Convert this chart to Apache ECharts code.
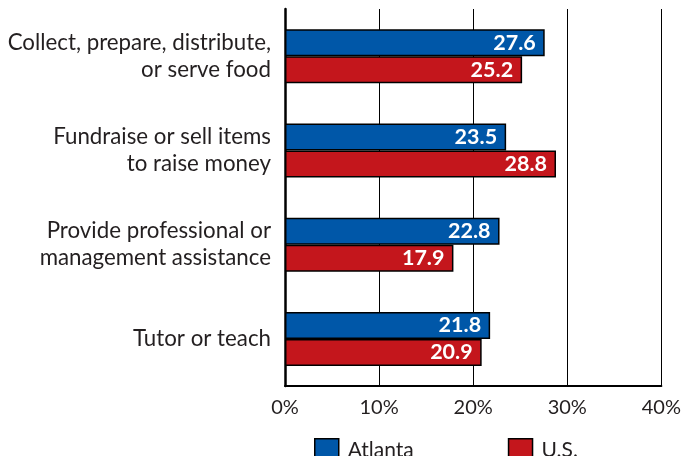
<!DOCTYPE html>
<html>
<head>
<meta charset="utf-8">
<script src="https://cdn.jsdelivr.net/npm/echarts@6/dist/echarts.min.js"></script>
<style>
  html, body { margin: 0; padding: 0; background: #fff; }
  #chart { width: 684px; height: 456px; }
</style>
</head>
<body>
<div id="chart"></div>
<script>
// Volunteer activity shares, Atlanta vs. U.S.
const categories = [
  'Collect, prepare, distribute,\nor serve food',
  'Fundraise or sell items\nto raise money',
  'Provide professional or\nmanagement assistance',
  'Tutor or teach'
];
const atlanta = [27.6, 23.5, 22.8, 21.8];
const us = [25.2, 28.8, 17.9, 20.9];
const xTicks = [0, 10, 20, 30, 40];

const FONT = 'Lato, "Noto Sans", sans-serif';
const chart = echarts.init(document.getElementById('chart'));

const valueLabel = {
  show: true,
  position: 'insideRight',
  distance: 9,
  color: '#fff',
  fontFamily: FONT,
  fontWeight: 'bold',
  fontSize: 21.5,
  formatter: p => p.value.toFixed(1)
};

chart.setOption({
  animation: false,
  grid: { left: 285, right: 20, top: 9, bottom: 70, containLabel: false },
  legend: {
    top: 433,
    left: 309,
    itemWidth: 24,
    itemHeight: 23,
    itemGap: 94,
    icon: 'rect',
    textStyle: { fontFamily: FONT, fontSize: 21, color: '#231f20', padding: [4, 0, 0, 4] },
    data: [
      { name: 'Atlanta', itemStyle: { borderColor: '#000', borderWidth: 1.5 } },
      { name: 'U.S.', itemStyle: { borderColor: '#000', borderWidth: 1.5 } }
    ]
  },
  xAxis: {
    type: 'value',
    min: xTicks[0],
    max: xTicks[xTicks.length - 1],
    interval: 10,
    axisLine: { show: true, lineStyle: { color: '#000', width: 2 } },
    axisTick: { show: false },
    splitLine: { show: true, lineStyle: { color: '#000', width: 1 } },
    axisLabel: {
      formatter: v => v + '%',
      fontFamily: FONT,
      fontSize: 20,
      color: '#231f20',
      margin: 12
    }
  },
  yAxis: {
    type: 'category',
    inverse: true,
    data: categories,
    axisLine: { show: true, lineStyle: { color: '#000', width: 2.5 } },
    axisTick: { show: false },
    axisLabel: {
      fontFamily: FONT,
      fontSize: 22.3,
      color: '#231f20',
      lineHeight: 27,
      margin: 14,
      align: 'right',
      padding: [5, 0, 0, 0]
    }
  },
  series: [
    {
      name: 'Atlanta',
      type: 'bar',
      data: atlanta,
      barWidth: 27,
      barGap: '0%',
      itemStyle: { color: '#0057a8', borderColor: '#000', borderWidth: 1.5 },
      label: valueLabel
    },
    {
      name: 'U.S.',
      type: 'bar',
      data: us,
      barWidth: 27,
      barGap: '0%',
      itemStyle: { color: '#c4161c', borderColor: '#000', borderWidth: 1.5 },
      label: valueLabel
    }
  ]
});
</script>
</body>
</html>
